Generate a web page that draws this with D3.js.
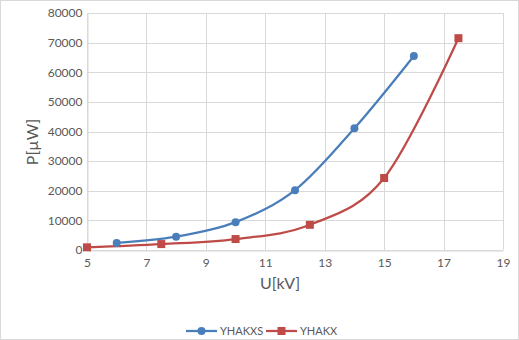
<!DOCTYPE html>
<html><head><meta charset="utf-8">
<script src="https://cdn.jsdelivr.net/npm/d3@7"></script>
<style>body{margin:0;background:#fff}svg{display:block;font-family:Lato,"Open Sans",sans-serif}</style>
</head><body>
<script>
const seriesNames = ["YHAKXS", "YHAKX"];
const yhakxsU = [6, 8, 10, 12, 14, 16];
const yhakxsP = [2400, 4500, 9400, 20200, 41100, 65500];
const yhakxU = [5, 7.5, 10, 12.5, 15, 17.5];
const yhakxP = [900, 2000, 3700, 8500, 24300, 71500];
const xTicks = [5, 7, 9, 11, 13, 15, 17, 19];
const yTicks = [0, 10000, 20000, 30000, 40000, 50000, 60000, 70000, 80000];
const colors = ["#4a7ebb", "#be4b48"];

const W = 519, H = 340;
const svg = d3.select("body").append("svg").attr("width", W).attr("height", H);
svg.append("rect").attr("x", 0.5).attr("y", 0.5).attr("width", W - 1).attr("height", H - 1)
  .attr("fill", "#fff").attr("stroke", "#d9d9d9");

const x = d3.scaleLinear().domain([5, 19]).range([87, 503]);
const y = d3.scaleLinear().domain([0, 80000]).range([250, 13]);

// gridlines
svg.append("g").selectAll("line.h").data(yTicks).join("line")
  .attr("x1", x(5)).attr("x2", x(19)).attr("y1", d => Math.round(y(d)) + 0.5).attr("y2", d => Math.round(y(d)) + 0.5)
  .attr("stroke", "#d9d9d9").attr("stroke-width", 1);
svg.append("g").selectAll("line.v").data(xTicks).join("line")
  .attr("x1", d => Math.round(x(d)) + 0.5).attr("x2", d => Math.round(x(d)) + 0.5).attr("y1", y(80000)).attr("y2", y(0))
  .attr("stroke", "#d9d9d9").attr("stroke-width", 1);

// axes
const xAxis = svg.append("g").attr("transform", `translate(0,${Math.round(y(0)) + 0.5})`)
  .call(d3.axisBottom(x).tickValues(xTicks).tickSize(0).tickPadding(8).tickFormat(d3.format("d")));
const yAxis = svg.append("g").attr("transform", `translate(${Math.round(x(5)) + 0.5},0)`)
  .call(d3.axisLeft(y).tickValues(yTicks).tickSize(0).tickPadding(5).tickFormat(d3.format("d")));
[xAxis, yAxis].forEach(a => {
  a.select(".domain").attr("stroke", "#d9d9d9");
  a.selectAll("text").attr("fill", "#595959").attr("font-size", 12).attr("font-family", "Lato,'Open Sans',sans-serif");
});

// axis titles
svg.append("text").attr("x", 280).attr("y", 289).attr("text-anchor", "middle")
  .attr("fill", "#595959").attr("font-size", 16).text("U[kV]");
svg.append("text").attr("transform", "translate(38,142) rotate(-90)").attr("text-anchor", "middle")
  .attr("fill", "#595959").attr("font-size", 16).text("P[µW]");

const line = d3.line().x(d => x(d[0])).y(d => y(d[1])).curve(d3.curveCatmullRom.alpha(0));
const s1 = yhakxsU.map((u, i) => [u, yhakxsP[i]]);
const s2 = yhakxU.map((u, i) => [u, yhakxP[i]]);

svg.append("path").attr("d", line(s2)).attr("fill", "none").attr("stroke", colors[1]).attr("stroke-width", 2.25);
svg.append("path").attr("d", line(s1)).attr("fill", "none").attr("stroke", colors[0]).attr("stroke-width", 2.25);

svg.append("g").selectAll("rect").data(s2).join("rect")
  .attr("x", d => x(d[0]) - 4).attr("y", d => y(d[1]) - 4).attr("width", 8).attr("height", 8).attr("fill", colors[1]);
svg.append("g").selectAll("circle").data(s1).join("circle")
  .attr("cx", d => x(d[0])).attr("cy", d => y(d[1])).attr("r", 4).attr("fill", colors[0]);

// legend
const leg = svg.append("g");
const legItems = [
  {name: seriesNames[0], color: colors[0], x0: 186, shape: "circle"},
  {name: seriesNames[1], color: colors[1], x0: 266, shape: "rect"}
];
const ly = 331;
legItems.forEach(it => {
  leg.append("line").attr("x1", it.x0).attr("x2", it.x0 + 31).attr("y1", ly).attr("y2", ly)
    .attr("stroke", it.color).attr("stroke-width", 2.25);
  if (it.shape === "circle") leg.append("circle").attr("cx", it.x0 + 15.5).attr("cy", ly).attr("r", 4).attr("fill", it.color);
  else leg.append("rect").attr("x", it.x0 + 11.5).attr("y", ly - 4).attr("width", 8).attr("height", 8).attr("fill", it.color);
  leg.append("text").attr("x", it.x0 + 34).attr("y", ly + 4).attr("fill", "#595959").attr("font-size", 11).text(it.name);
});
</script>
</body></html>
